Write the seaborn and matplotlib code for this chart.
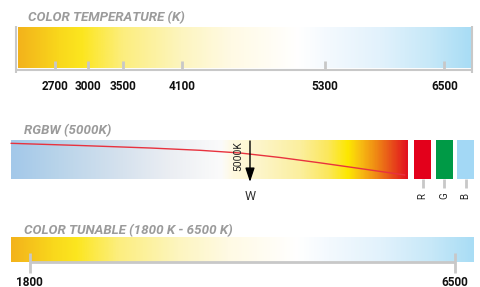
import numpy as np
import matplotlib.pyplot as plt
import seaborn as sns
from matplotlib.colors import LinearSegmentedColormap

sns.set_theme(style="white")
plt.rcParams['font.family'] = ['Roboto', 'DejaVu Sans']

# --- data ---
# colour temperature scale (tick positions as fraction of bar width)
temp_ticks = [2700, 3000, 3500, 4100, 5300, 6500]
temp_tick_pos = [0.082, 0.155, 0.232, 0.363, 0.678, 0.941]

# warm -> cool gradient (stop, colour)
warm_cool_stops = [0.0, 0.09, 0.14, 0.23, 0.36, 0.47, 0.62, 0.69, 0.80, 0.91, 1.0]
warm_cool_colors = ['#f3b31b', '#f9d81c', '#fce61f', '#fcee7e', '#fdf5bf', '#fffae4',
                    '#ffffff', '#f3f9fe', '#e2f2fc', '#c7e8f8', '#a9ddf5']

# RGBW white channel gradient
rgbw_stops = [0.0, 0.12, 0.28, 0.40, 0.53, 0.56, 0.63, 0.73, 0.80, 0.85, 0.88, 0.92, 0.96, 1.0]
rgbw_colors = ['#a3c8e9', '#b9d4ea', '#d6e2ee', '#ebeef3', '#fbfbfb', '#fff9e0', '#fdf5c8',
               '#fbef9e', '#fbe75c', '#fde800', '#f8c012', '#f08c14', '#e8501a', '#e3121e']
rgbw_label = "5000K"
rgbw_marker_pos = 0.602
red_curve_x = [0.0, 0.174, 0.35, 0.476, 0.577, 0.678, 0.778, 0.879, 0.992]
red_curve_y = [0.915, 0.859, 0.795, 0.736, 0.667, 0.551, 0.415, 0.269, 0.103]

channels = ['R', 'G', 'B']
channel_colors = ['#e3001b', '#009a46', '#a3d8f5']

# tunable range
tunable_ticks = [1800, 6500]
tunable_tick_pos = [0.040, 0.959]

# --- layout (pixels) ---
W, H = 480, 287
GRAY = '#c8c8c8'
TITLE = '#9b9b9b'

fig = plt.figure(figsize=(W / 100, H / 100), dpi=100)
ax = fig.add_axes([0, 0, 1, 1])
ax.set_xlim(0, W)
ax.set_ylim(H, 0)
ax.axis('off')


def gradient(x0, x1, y0, y1, stops, colors):
    cmap = LinearSegmentedColormap.from_list('g', list(zip(stops, colors)))
    g = cmap(np.linspace(0, 1, 600))[np.newaxis, :, :]
    ax.imshow(g, extent=(x0, x1, y1, y0), aspect='auto', interpolation='bilinear', zorder=1)


title_kw = dict(color=TITLE, fontsize=9.6, fontweight='bold', fontstyle='italic', va='baseline')
tick_kw = dict(color='#111111', fontsize=8.5, fontweight='bold', ha='center', va='baseline')

# panel 1: colour temperature
bx0, bx1 = 18, 471
ax.text(28, 21, "COLOR TEMPERATURE (K)", **title_kw)
gradient(bx0, bx1, 27, 68, warm_cool_stops, warm_cool_colors)
ax.vlines([16, 472], 26, 73, color=GRAY, lw=1.5, zorder=2)
ax.hlines(69.5, 16, 472, color=GRAY, lw=1.5, zorder=2)
tx = [bx0 + p * (bx1 - bx0) for p in temp_tick_pos]
ax.vlines(tx, 61, 69.5, color=GRAY, lw=2, zorder=2)
for x, t in zip(tx, temp_ticks):
    ax.text(x, 90.5, str(t), **tick_kw)

# panel 2: RGBW
rx0, rx1, ry0, ry1 = 11, 408, 140, 179
ax.text(24, 134, "RGBW (5000K)", **title_kw)
gradient(rx0, rx1, ry0, ry1, rgbw_stops, rgbw_colors)
cx = [rx0 + p * (rx1 - rx0) for p in red_curve_x]
cy = [ry1 - p * (ry1 - ry0) for p in red_curve_y]
sns.lineplot(x=cx, y=cy, ax=ax, color='#e8323e', lw=1, estimator=None, sort=False, zorder=3)
mx = rx0 + rgbw_marker_pos * (rx1 - rx0)
ax.annotate('', xy=(mx, 182), xytext=(mx, 141),
            arrowprops=dict(arrowstyle='-|>,head_length=0.6,head_width=0.2', color='black',
                            lw=1, mutation_scale=14, shrinkA=0, shrinkB=0), zorder=4)
ax.text(mx - 11.5, 156, rgbw_label, rotation=90, fontsize=7.4, color='#222222',
        ha='center', va='center', zorder=4)
ax.text(mx, 200, "W", fontsize=9, color='#333333', ha='center', va='baseline')

box_w, box_gap = 17, 4.5
for i, (ch, col) in enumerate(zip(channels, channel_colors)):
    x0 = 414 + i * (box_w + box_gap)
    ax.fill_between([x0, x0 + box_w], ry0, ry1, color=col, lw=0, zorder=2)
    xc = x0 + box_w / 2
    ax.vlines(xc, ry1, 188, color=GRAY, lw=2)
    ax.text(xc, 196, ch, rotation=90, fontsize=7, color='#222222', ha='center', va='center')

# panel 3: tunable
ax.text(24, 234, "COLOR TUNABLE (1800 K - 6500 K)", **title_kw)
ux0, ux1 = 11, 474
gradient(ux0, ux1, 237, 262, warm_cool_stops, warm_cool_colors)
ux = [ux0 + p * (ux1 - ux0) for p in tunable_tick_pos]
ax.hlines(262, ux[0], ux[-1], color=GRAY, lw=2, zorder=2)
ax.vlines(ux, 253, 273, color=GRAY, lw=2, zorder=2)
for x, t in zip(ux, tunable_ticks):
    ax.text(x, 285.5, str(t), **tick_kw)

fig.savefig("out.png", dpi=100, facecolor='white')
